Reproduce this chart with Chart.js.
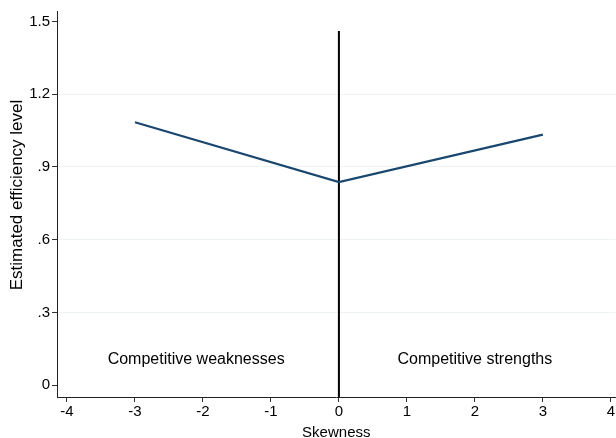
<!DOCTYPE html>
<html>
<head>
<meta charset="utf-8">
<script src="https://cdn.jsdelivr.net/npm/chart.js@4"></script>
<style>
  html, body { margin: 0; padding: 0; background: #ffffff; }
  #wrap { width: 616px; height: 438px; position: relative; }
</style>
</head>
<body>
<div id="wrap"><canvas id="c"></canvas></div>
<script>
// ---- data ----
const skewness = [-3, 0, 3];
const efficiency = [1.084, 0.837, 1.033];
const dividerX = [0, 0];
const dividerY = [-0.049, 1.46];
const xTicks = [-4, -3, -2, -1, 0, 1, 2, 3, 4];
const xTickLabels = ['-4', '-3', '-2', '-1', '0', '1', '2', '3', '4'];
const yTicks = [0, 0.3, 0.6, 0.9, 1.2, 1.5];
const yTickLabels = ['0', '.3', '.6', '.9', '1.2', '1.5'];
const regionLabels = ['Competitive weaknesses', 'Competitive strengths'];
const regionLabelX = [-2.1, 2.0];
const regionLabelY = [0.107, 0.107];
const yTitle = 'Estimated efficiency level';
const xTitle = 'Skewness';

const FONT = "'Liberation Sans', Arial, Helvetica, sans-serif";

const textPlugin = {
  id: 'extraText',
  afterDraw(chart) {
    const ctx = chart.ctx;
    const xs = chart.scales.x, ys = chart.scales.y;
    ctx.save();
    ctx.font = '16px ' + FONT;
    ctx.fillStyle = '#000000';
    ctx.textAlign = 'center';
    ctx.textBaseline = 'middle';
    regionLabels.forEach((t, i) => {
      ctx.fillText(t, xs.getPixelForValue(regionLabelX[i]), ys.getPixelForValue(regionLabelY[i]));
    });
    // y-axis title, centred a bit above the plot middle as in the reference
    ctx.translate(17, (ys.top + ys.bottom) / 2 - 9);
    ctx.rotate(-Math.PI / 2);
    ctx.font = '17px ' + FONT;
    ctx.fillText(yTitle, 0, 0);
    ctx.restore();
  }
};

new Chart(document.getElementById('c'), {
  type: 'line',
  data: {
    datasets: [
      {
        label: 'Estimated efficiency',
        data: skewness.map((x, i) => ({ x: x, y: efficiency[i] })),
        borderColor: '#1a476f',
        borderWidth: 2.2,
        pointRadius: 0,
        tension: 0,
        fill: false
      },
      {
        label: 'Zero skewness',
        data: dividerX.map((x, i) => ({ x: x, y: dividerY[i] })),
        borderColor: '#000000',
        borderWidth: 2,
        pointRadius: 0,
        fill: false
      }
    ]
  },
  options: {
    responsive: true,
    maintainAspectRatio: false,
    animation: false,
    layout: { padding: { top: 9, right: 0, left: 0, bottom: 0 } },
    plugins: { legend: { display: false }, tooltip: { enabled: false } },
    scales: {
      x: {
        type: 'linear',
        min: -4.147,
        max: 4.07,
        afterFit(scale) { scale.height = 41; },
        afterBuildTicks(scale) { scale.ticks = xTicks.map(v => ({ value: v })); },
        ticks: {
          font: { family: FONT, size: 15 },
          color: '#000000',
          padding: 1,
          maxRotation: 0,
          callback(v) { const i = xTicks.indexOf(v); return i >= 0 ? xTickLabels[i] : ''; }
        },
        grid: {
          display: true,
          drawOnChartArea: false,
          drawTicks: true,
          tickLength: 5,
          tickColor: '#333333'
        },
        border: { display: true, color: '#222222', width: 1 },
        title: {
          display: true,
          text: xTitle,
          font: { family: FONT, size: 15, lineHeight: 0.75 },
          color: '#000000',
          padding: { top: 0, bottom: 0 }
        }
      },
      y: {
        type: 'linear',
        min: -0.049,
        max: 1.543,
        afterFit(scale) { scale.width = 57; },
        afterBuildTicks(scale) { scale.ticks = yTicks.map(v => ({ value: v })); },
        ticks: {
          font: { family: FONT, size: 15 },
          color: '#000000',
          padding: 2,
          callback(v) {
            const i = yTicks.findIndex(t => Math.abs(t - v) < 1e-9);
            return i >= 0 ? yTickLabels[i] : '';
          }
        },
        grid: {
          display: true,
          drawTicks: true,
          tickLength: 5,
          tickColor: '#333333',
          lineWidth: 1,
          color(ctx) {
            const v = ctx.tick ? ctx.tick.value : null;
            if (v === null || v === 0 || v === 1.5) return 'rgba(0,0,0,0)';
            return '#eef3f3';
          }
        },
        border: { display: true, color: '#222222', width: 1 },
        title: { display: false }
      }
    }
  },
  plugins: [textPlugin]
});
</script>
</body>
</html>
